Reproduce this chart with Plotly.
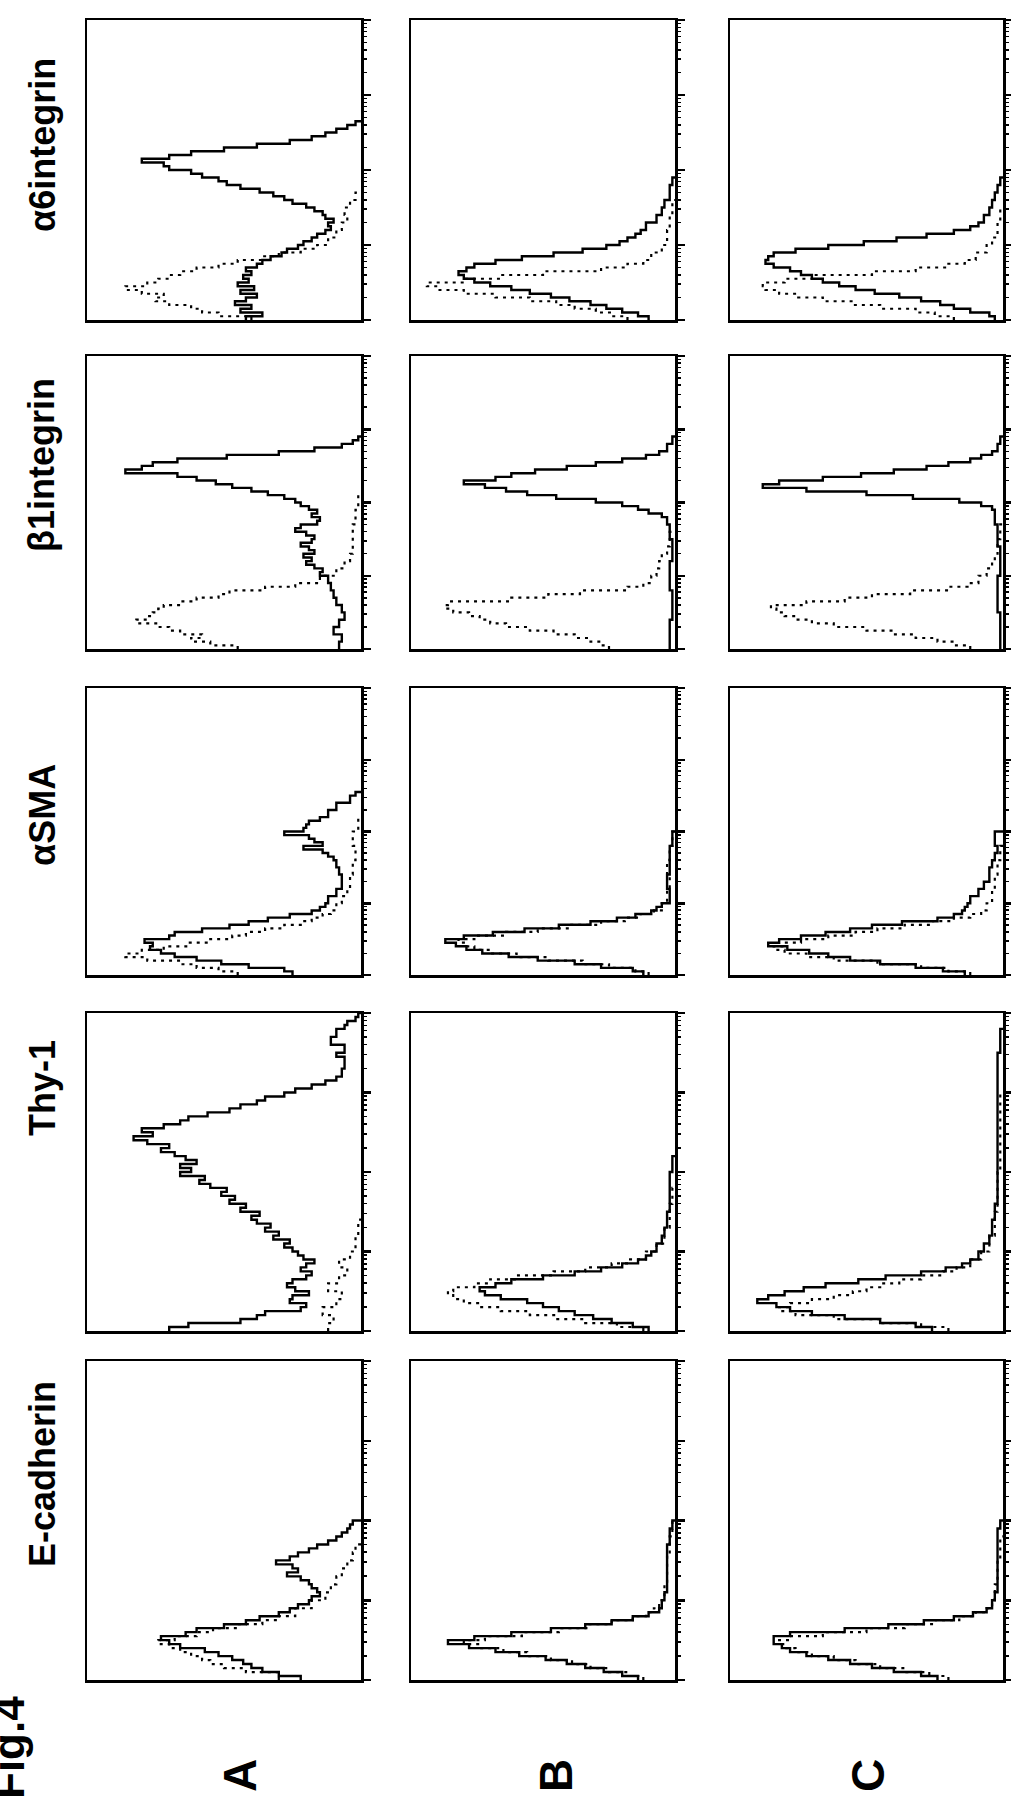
import plotly.graph_objects as go

# ---------------- data (log10 intensity position, % of panel count axis) ----------------
MARKERS = ["E-cadherin", "Thy-1", "αSMA", "β1integrin", "α6integrin"]
GROUPS = ["A", "B", "C"]

# ---- group A ----
A_A6_S_DEC = [0, 0.05, 0.1, 0.15, 0.2, 0.25, 0.3, 0.35, 0.4, 0.45, 0.5, 0.55, 0.6, 0.65, 0.7, 0.75, 0.8, 0.85, 0.9, 0.95, 1.0, 1.05, 1.1, 1.15, 1.2, 1.25, 1.3, 1.35, 1.4, 1.45, 1.5, 1.55, 1.6, 1.65, 1.7, 1.75, 1.8, 1.85, 1.9, 1.95, 2.0, 2.05, 2.1, 2.15, 2.2, 2.25, 2.3, 2.35, 2.4, 2.45, 2.5, 2.55, 2.6, 2.65]
A_A6_S_CNT = [42, 36, 44, 40, 46, 42, 38, 44, 39, 45, 41, 43, 40, 42, 38, 36, 33, 29, 27, 23, 21, 18, 16, 13, 11, 12, 10, 13, 14, 17, 20, 25, 28, 32, 37, 44, 49, 52, 58, 62, 70, 72, 80, 70, 62, 50, 38, 26, 18, 13, 9, 5, 2, 0]
A_A6_D_DEC = [0, 0.05, 0.1, 0.15, 0.2, 0.25, 0.3, 0.35, 0.4, 0.45, 0.5, 0.55, 0.6, 0.65, 0.7, 0.75, 0.8, 0.85, 0.9, 0.95, 1.0, 1.1, 1.2, 1.3, 1.4, 1.5, 1.6, 1.7]
A_A6_D_CNT = [40, 52, 58, 62, 70, 75, 72, 80, 86, 78, 74, 70, 66, 60, 52, 45, 36, 30, 22, 16, 12, 9, 7, 5, 6, 4, 2, 0]

A_B1_S_DEC = [0, 0.1, 0.2, 0.3, 0.4, 0.5, 0.6, 0.7, 0.8, 0.9, 1.0, 1.05, 1.1, 1.15, 1.2, 1.25, 1.3, 1.35, 1.4, 1.45, 1.5, 1.55, 1.6, 1.65, 1.7, 1.75, 1.8, 1.85, 1.9, 1.95, 2.0, 2.05, 2.1, 2.15, 2.2, 2.25, 2.3, 2.35, 2.4, 2.45, 2.5, 2.55, 2.6, 2.65, 2.7, 2.75, 2.8, 2.85, 2.9]
A_B1_S_CNT = [8, 7, 10, 8, 6, 7, 9, 10, 11, 12, 15, 14, 17, 20, 18, 21, 17, 19, 22, 18, 17, 20, 24, 22, 16, 15, 18, 16, 19, 22, 24, 28, 34, 40, 47, 53, 60, 67, 86, 80, 76, 67, 49, 30, 17, 7, 3, 1, 0]
A_B1_D_DEC = [0, 0.05, 0.1, 0.15, 0.2, 0.25, 0.3, 0.35, 0.4, 0.45, 0.5, 0.55, 0.6, 0.65, 0.7, 0.75, 0.8, 0.85, 0.9, 1.0, 1.1, 1.2, 1.3, 1.5, 1.7, 1.9, 2.1]
A_B1_D_CNT = [45, 55, 62, 58, 66, 70, 74, 82, 78, 76, 74, 72, 66, 60, 52, 48, 35, 24, 15, 9, 6, 4, 3, 3, 2, 1, 0]

A_SMA_S_DEC = [0, 0.05, 0.1, 0.15, 0.2, 0.25, 0.3, 0.35, 0.4, 0.45, 0.5, 0.55, 0.6, 0.65, 0.7, 0.75, 0.8, 0.85, 0.9, 0.95, 1.0, 1.1, 1.2, 1.3, 1.4, 1.5, 1.6, 1.65, 1.7, 1.75, 1.8, 1.85, 1.9, 1.95, 2.0, 2.05, 2.1, 2.15, 2.2, 2.3, 2.4, 2.5, 2.55]
A_SMA_S_CNT = [25, 28, 41, 51, 60, 68, 73, 77, 76, 79, 70, 68, 58, 48, 41, 34, 26, 18, 15, 13, 12, 9, 7, 7, 8, 9, 10, 12, 14, 21, 14, 17, 19, 28, 21, 20, 19, 15, 12, 9, 4, 2, 0]
A_SMA_D_DEC = [0, 0.05, 0.1, 0.15, 0.2, 0.25, 0.3, 0.35, 0.4, 0.45, 0.5, 0.55, 0.6, 0.65, 0.7, 0.75, 0.8, 0.85, 0.9, 1.0, 1.1, 1.2, 1.4, 1.6, 1.8, 2.0, 2.2]
A_SMA_D_CNT = [45, 52, 60, 66, 78, 86, 80, 72, 63, 55, 47, 42, 35, 28, 22, 18, 14, 11, 9, 7, 5, 4, 3, 2, 3, 1, 0]

A_THY_S_DEC = [0, 0.05, 0.1, 0.15, 0.2, 0.25, 0.3, 0.35, 0.4, 0.45, 0.5, 0.55, 0.6, 0.65, 0.7, 0.75, 0.8, 0.85, 0.9, 0.95, 1.0, 1.05, 1.1, 1.15, 1.2, 1.25, 1.3, 1.35, 1.4, 1.45, 1.5, 1.55, 1.6, 1.65, 1.7, 1.75, 1.8, 1.85, 1.9, 1.95, 2.0, 2.05, 2.1, 2.15, 2.2, 2.25, 2.3, 2.35, 2.4, 2.45, 2.5, 2.55, 2.6, 2.65, 2.7, 2.75, 2.8, 2.85, 2.9, 2.95, 3.0, 3.05, 3.1, 3.15, 3.2, 3.3, 3.4, 3.45, 3.5, 3.6, 3.7, 3.8, 3.85, 3.9, 3.95, 4.0]
A_THY_S_CNT = [70, 63, 44, 38, 35, 22, 20, 26, 25, 19, 24, 27, 25, 20, 18, 22, 20, 17, 21, 23, 25, 28, 26, 32, 30, 35, 33, 38, 40, 37, 44, 42, 48, 46, 51, 49, 55, 59, 57, 66, 62, 66, 60, 64, 68, 73, 70, 78, 83, 76, 80, 72, 66, 63, 56, 48, 44, 38, 35, 28, 24, 18, 13, 9, 7, 6, 6, 9, 6, 11, 9, 6, 5, 2, 1, 0]
A_THY_D_DEC = [0, 0.1, 0.2, 0.3, 0.4, 0.5, 0.6, 0.7, 0.8, 0.9, 1.0, 1.2, 1.4]
A_THY_D_CNT = [12, 10, 14, 9, 7, 12, 8, 5, 8, 4, 2, 1, 0]

A_ECAD_S_DEC = [0, 0.05, 0.1, 0.15, 0.2, 0.25, 0.3, 0.35, 0.4, 0.45, 0.5, 0.55, 0.6, 0.65, 0.7, 0.75, 0.8, 0.85, 0.9, 0.95, 1.0, 1.05, 1.1, 1.15, 1.2, 1.25, 1.3, 1.35, 1.4, 1.45, 1.5, 1.55, 1.6, 1.65, 1.7, 1.75, 1.8, 1.85, 1.9, 1.95, 2.0]
A_ECAD_S_CNT = [22, 30, 36, 40, 43, 47, 52, 57, 66, 70, 73, 64, 60, 50, 42, 37, 30, 26, 23, 19, 18, 15, 16, 18, 19, 22, 27, 23, 25, 31, 26, 23, 19, 16, 12, 9, 7, 5, 4, 3, 0]
A_ECAD_D_DEC = [0, 0.1, 0.15, 0.2, 0.25, 0.3, 0.35, 0.4, 0.45, 0.5, 0.55, 0.6, 0.65, 0.7, 0.75, 0.8, 0.9, 1.0, 1.1, 1.2, 1.3, 1.4, 1.5, 1.6, 1.7]
A_ECAD_D_CNT = [30, 42, 50, 55, 58, 62, 66, 70, 74, 68, 60, 54, 45, 36, 30, 24, 18, 13, 11, 9, 7, 5, 3, 2, 0]

# ---- group B ----
B_A6_S_DEC = [0, 0.05, 0.1, 0.15, 0.2, 0.25, 0.3, 0.35, 0.4, 0.45, 0.5, 0.55, 0.6, 0.65, 0.7, 0.75, 0.8, 0.85, 0.9, 0.95, 1.0, 1.05, 1.1, 1.15, 1.2, 1.3, 1.4, 1.5, 1.6, 1.7, 1.8, 1.9]
B_A6_S_CNT = [10, 14, 20, 26, 32, 40, 47, 55, 62, 70, 76, 80, 82, 79, 76, 68, 58, 46, 35, 26, 21, 18, 15, 13, 11, 7, 5, 4, 2, 2, 1, 0]
B_A6_D_DEC = [0, 0.05, 0.1, 0.15, 0.2, 0.25, 0.3, 0.35, 0.4, 0.45, 0.5, 0.55, 0.6, 0.65, 0.7, 0.75, 0.8, 0.9, 1.0, 1.2, 1.4, 1.6]
B_A6_D_CNT = [18, 24, 30, 38, 45, 55, 68, 80, 90, 94, 80, 66, 50, 28, 18, 12, 9, 5, 3, 2, 1, 0]

B_B1_S_DEC = [0, 0.4, 0.8, 1.2, 1.5, 1.7, 1.8, 1.85, 1.9, 1.95, 2.0, 2.05, 2.1, 2.15, 2.2, 2.25, 2.3, 2.35, 2.4, 2.45, 2.5, 2.55, 2.6, 2.65, 2.7, 2.8, 2.9]
B_B1_S_CNT = [2, 1, 2, 1, 2, 3, 5, 10, 14, 20, 30, 45, 56, 64, 72, 80, 68, 62, 53, 41, 30, 20, 11, 6, 3, 1, 0]
B_B1_D_DEC = [0, 0.05, 0.1, 0.15, 0.2, 0.25, 0.3, 0.35, 0.4, 0.45, 0.5, 0.55, 0.6, 0.65, 0.7, 0.75, 0.8, 0.85, 0.9, 1.0, 1.1, 1.2, 1.3, 1.4, 1.6]
B_B1_D_CNT = [25, 28, 32, 38, 46, 55, 64, 70, 74, 78, 84, 87, 86, 62, 48, 36, 18, 12, 9, 7, 6, 5, 3, 2, 0]

B_SMA_S_DEC = [0, 0.05, 0.1, 0.15, 0.2, 0.25, 0.3, 0.35, 0.4, 0.45, 0.5, 0.55, 0.6, 0.65, 0.7, 0.75, 0.8, 0.85, 0.9, 0.95, 1.0, 1.2, 1.4, 1.6, 1.8, 2.0]
B_SMA_S_CNT = [12, 16, 28, 38, 52, 63, 73, 79, 83, 87, 80, 69, 57, 44, 32, 22, 15, 9, 7, 5, 2, 3, 2, 2, 1, 0]
B_SMA_D_DEC = [0, 0.05, 0.1, 0.15, 0.2, 0.25, 0.3, 0.35, 0.4, 0.45, 0.5, 0.55, 0.6, 0.65, 0.7, 0.75, 0.8, 0.85, 0.9, 1.0, 1.2, 1.4, 1.6, 1.8, 2.0]
B_SMA_D_CNT = [10, 15, 25, 35, 48, 60, 70, 76, 80, 82, 76, 64, 52, 40, 28, 19, 13, 8, 5, 3, 2, 3, 2, 1, 0]

B_THY_S_DEC = [0, 0.05, 0.1, 0.15, 0.2, 0.25, 0.3, 0.35, 0.4, 0.45, 0.5, 0.55, 0.6, 0.65, 0.7, 0.75, 0.8, 0.85, 0.9, 0.95, 1.0, 1.1, 1.2, 1.3, 1.5, 1.8, 2.0, 2.2]
B_THY_S_CNT = [10, 16, 24, 31, 38, 44, 50, 56, 66, 72, 74, 68, 62, 50, 38, 28, 20, 14, 11, 9, 7, 5, 4, 3, 2, 2, 1, 0]
B_THY_D_DEC = [0, 0.05, 0.1, 0.15, 0.2, 0.25, 0.3, 0.35, 0.4, 0.45, 0.5, 0.55, 0.6, 0.65, 0.7, 0.75, 0.8, 0.85, 0.9, 1.0, 1.1, 1.3, 1.6, 1.8]
B_THY_D_CNT = [12, 22, 34, 45, 55, 66, 74, 80, 84, 86, 84, 76, 70, 60, 46, 34, 24, 17, 11, 7, 4, 2, 1, 0]

B_ECAD_S_DEC = [0, 0.05, 0.1, 0.15, 0.2, 0.25, 0.3, 0.35, 0.4, 0.45, 0.5, 0.55, 0.6, 0.65, 0.7, 0.75, 0.8, 0.85, 0.9, 1.0, 1.1, 1.3, 1.5, 1.7, 1.9, 2.0]
B_ECAD_S_CNT = [14, 20, 27, 34, 41, 49, 59, 68, 78, 86, 76, 62, 47, 34, 24, 16, 10, 6, 5, 4, 3, 3, 3, 2, 1, 0]
B_ECAD_D_DEC = [0, 0.05, 0.1, 0.15, 0.2, 0.25, 0.3, 0.35, 0.4, 0.45, 0.5, 0.55, 0.6, 0.65, 0.7, 0.75, 0.8, 0.85, 0.9, 1.0, 1.2, 1.4, 1.6, 1.8, 2.0]
B_ECAD_D_CNT = [12, 18, 25, 32, 39, 47, 56, 65, 74, 80, 72, 58, 44, 33, 24, 16, 11, 8, 6, 4, 3, 3, 2, 1, 0]

# ---- group C ----
C_A6_S_DEC = [0, 0.05, 0.1, 0.15, 0.2, 0.25, 0.3, 0.35, 0.4, 0.45, 0.5, 0.55, 0.6, 0.65, 0.7, 0.75, 0.8, 0.85, 0.9, 0.95, 1.0, 1.05, 1.1, 1.15, 1.2, 1.25, 1.3, 1.4, 1.5, 1.6, 1.7, 1.8, 1.9]
C_A6_S_CNT = [3, 5, 12, 18, 23, 30, 38, 47, 54, 60, 66, 70, 74, 78, 84, 87, 86, 84, 76, 64, 51, 39, 28, 18, 12, 9, 7, 5, 4, 3, 2, 1, 0]
C_A6_D_DEC = [0, 0.05, 0.1, 0.15, 0.2, 0.25, 0.3, 0.35, 0.4, 0.45, 0.5, 0.55, 0.6, 0.65, 0.7, 0.75, 0.8, 0.9, 1.0, 1.1, 1.3, 1.5]
C_A6_D_CNT = [18, 25, 32, 45, 55, 66, 75, 82, 87, 88, 80, 70, 48, 32, 20, 14, 10, 6, 4, 2, 1, 0]

C_B1_S_DEC = [0, 0.5, 1.0, 1.4, 1.7, 1.8, 1.9, 1.95, 2.0, 2.05, 2.1, 2.15, 2.2, 2.25, 2.3, 2.35, 2.4, 2.45, 2.5, 2.55, 2.6, 2.65, 2.7, 2.8, 2.9]
C_B1_S_CNT = [1, 2, 1, 2, 3, 3, 4, 8, 16, 33, 50, 72, 88, 82, 66, 52, 40, 28, 20, 12, 8, 4, 2, 1, 0]
C_B1_D_DEC = [0, 0.05, 0.1, 0.15, 0.2, 0.25, 0.3, 0.35, 0.4, 0.45, 0.5, 0.55, 0.6, 0.65, 0.7, 0.75, 0.8, 0.85, 0.9, 1.0, 1.1, 1.2, 1.3, 1.5, 1.7]
C_B1_D_CNT = [12, 18, 24, 32, 40, 50, 62, 70, 76, 80, 83, 85, 72, 58, 48, 34, 20, 13, 9, 6, 4, 3, 2, 1, 0]

C_SMA_S_DEC = [0, 0.05, 0.1, 0.15, 0.2, 0.25, 0.3, 0.35, 0.4, 0.45, 0.5, 0.55, 0.6, 0.65, 0.7, 0.75, 0.8, 0.85, 0.9, 0.95, 1.0, 1.1, 1.2, 1.3, 1.4, 1.5, 1.6, 1.7, 1.8, 1.9, 2.0]
C_SMA_S_CNT = [14, 22, 32, 45, 56, 64, 71, 79, 86, 82, 74, 65, 56, 48, 37, 24, 18, 15, 14, 13, 12, 9, 7, 5, 5, 4, 3, 2, 3, 3, 0]
C_SMA_D_DEC = [0, 0.05, 0.1, 0.15, 0.2, 0.25, 0.3, 0.35, 0.4, 0.45, 0.5, 0.55, 0.6, 0.65, 0.7, 0.75, 0.8, 0.85, 0.9, 1.0, 1.2, 1.4, 1.6, 1.8]
C_SMA_D_CNT = [12, 20, 30, 46, 62, 72, 80, 84, 80, 74, 64, 54, 46, 36, 26, 18, 12, 8, 6, 4, 3, 2, 1, 0]

C_THY_S_DEC = [0, 0.05, 0.1, 0.15, 0.2, 0.25, 0.3, 0.35, 0.4, 0.45, 0.5, 0.55, 0.6, 0.65, 0.7, 0.75, 0.8, 0.85, 0.9, 1.0, 1.1, 1.2, 1.4, 1.6, 2.0, 2.5, 3.0, 3.5, 3.8]
C_THY_S_CNT = [26, 32, 45, 58, 70, 78, 83, 90, 86, 80, 73, 65, 53, 43, 30, 21, 15, 12, 9, 7, 5, 4, 3, 2, 2, 2, 2, 1, 0]
C_THY_D_DEC = [0, 0.05, 0.1, 0.15, 0.2, 0.25, 0.3, 0.35, 0.4, 0.45, 0.5, 0.55, 0.6, 0.65, 0.7, 0.75, 0.8, 0.9, 1.0, 1.2, 1.5, 2.0, 2.5, 3.0]
C_THY_D_CNT = [20, 30, 45, 62, 76, 82, 78, 70, 62, 55, 50, 45, 38, 30, 22, 17, 12, 8, 5, 3, 2, 1, 1, 0]

C_ECAD_S_DEC = [0, 0.05, 0.1, 0.15, 0.2, 0.25, 0.3, 0.35, 0.4, 0.45, 0.5, 0.55, 0.6, 0.65, 0.7, 0.75, 0.8, 0.85, 0.9, 1.0, 1.1, 1.3, 1.5, 1.7, 1.9, 2.0]
C_ECAD_S_CNT = [24, 30, 40, 48, 56, 64, 72, 78, 81, 84, 84, 78, 58, 42, 29, 18, 11, 6, 4, 3, 2, 2, 2, 2, 1, 0]
C_ECAD_D_DEC = [0, 0.05, 0.1, 0.15, 0.2, 0.25, 0.3, 0.35, 0.4, 0.45, 0.5, 0.55, 0.6, 0.65, 0.7, 0.75, 0.8, 0.85, 0.9, 1.0, 1.2, 1.5, 1.8]
C_ECAD_D_CNT = [20, 27, 36, 45, 54, 62, 70, 76, 80, 82, 78, 66, 50, 36, 25, 16, 10, 6, 4, 3, 2, 1, 0]

# panel table: rows top->bottom (α6, β1, αSMA, Thy-1, E-cad), columns A, B, C
PANELS = [
    [(A_A6_S_DEC, A_A6_S_CNT, A_A6_D_DEC, A_A6_D_CNT), (B_A6_S_DEC, B_A6_S_CNT, B_A6_D_DEC, B_A6_D_CNT), (C_A6_S_DEC, C_A6_S_CNT, C_A6_D_DEC, C_A6_D_CNT)],
    [(A_B1_S_DEC, A_B1_S_CNT, A_B1_D_DEC, A_B1_D_CNT), (B_B1_S_DEC, B_B1_S_CNT, B_B1_D_DEC, B_B1_D_CNT), (C_B1_S_DEC, C_B1_S_CNT, C_B1_D_DEC, C_B1_D_CNT)],
    [(A_SMA_S_DEC, A_SMA_S_CNT, A_SMA_D_DEC, A_SMA_D_CNT), (B_SMA_S_DEC, B_SMA_S_CNT, B_SMA_D_DEC, B_SMA_D_CNT), (C_SMA_S_DEC, C_SMA_S_CNT, C_SMA_D_DEC, C_SMA_D_CNT)],
    [(A_THY_S_DEC, A_THY_S_CNT, A_THY_D_DEC, A_THY_D_CNT), (B_THY_S_DEC, B_THY_S_CNT, B_THY_D_DEC, B_THY_D_CNT), (C_THY_S_DEC, C_THY_S_CNT, C_THY_D_DEC, C_THY_D_CNT)],
    [(A_ECAD_S_DEC, A_ECAD_S_CNT, A_ECAD_D_DEC, A_ECAD_D_CNT), (B_ECAD_S_DEC, B_ECAD_S_CNT, B_ECAD_D_DEC, B_ECAD_D_CNT), (C_ECAD_S_DEC, C_ECAD_S_CNT, C_ECAD_D_DEC, C_ECAD_D_CNT)],
]
ROW_TITLES = ["α6integrin", "β1integrin", "αSMA", "Thy-1", "E-cadherin"]

# ---------------- layout (pixels) ----------------
W, H = 1011, 1802
COL_X = [(87, 361), (411, 675), (730, 1003)]
ROW_Y = [(20, 320), (356, 649), (688, 975), (1013, 1331), (1361, 1680)]
TITLE_Y = [145, 465, 815, 1088, 1474]
TITLE_X = 42
LETTER_X = [240, 556, 868]
LETTER_Y = 1776

MAJOR = [1, 10, 100, 1000, 10000]
MINOR = [m * d for d in [1, 10, 100, 1000] for m in range(2, 10)]

fig = go.Figure()
layout = dict(
    width=W, height=H,
    margin=dict(l=0, r=0, t=0, b=0),
    paper_bgcolor="white", plot_bgcolor="white",
    showlegend=False,
)

k = 0
for r in range(5):
    for c in range(3):
        k += 1
        xs = "x" if k == 1 else f"x{k}"
        ys = "y" if k == 1 else f"y{k}"
        sd, sc, dd, dc = PANELS[r][c]
        fig.add_trace(go.Scatter(
            x=dc, y=[10 ** v for v in dd], xaxis=xs, yaxis=ys, mode="lines",
            line=dict(color="black", width=2.2, dash="3px,5px", shape="vh"),
            hoverinfo="skip"))
        fig.add_trace(go.Scatter(
            x=sc, y=[10 ** v for v in sd], xaxis=xs, yaxis=ys, mode="lines",
            line=dict(color="black", width=2.4, shape="vh"),
            hoverinfo="skip"))
        x0, x1 = COL_X[c]
        y0, y1 = ROW_Y[r]
        xname = "xaxis" if k == 1 else f"xaxis{k}"
        yname = "yaxis" if k == 1 else f"yaxis{k}"
        layout[xname] = dict(
            domain=[x0 / W, x1 / W], anchor=ys, range=[100, 0],
            showline=True, mirror=True, linecolor="black", linewidth=2.5,
            ticks="", showticklabels=False, showgrid=False, zeroline=False,
        )
        layout[yname] = dict(
            domain=[1 - y1 / H, 1 - y0 / H], anchor=xs, type="log", range=[0, 4],
            side="right", showline=True, mirror=True, linecolor="black", linewidth=2.5,
            tickmode="array", tickvals=MAJOR, ticks="outside", ticklen=7,
            tickwidth=2.5, tickcolor="black", showticklabels=False,
            showgrid=False, zeroline=False,
            minor=dict(tickmode="array", tickvals=MINOR, ticks="outside",
                       ticklen=3, tickwidth=1.5, tickcolor="black", showgrid=False),
        )

ann = []
for r, t in enumerate(ROW_TITLES):
    ann.append(dict(text=f"<b>{t}</b>", x=TITLE_X / W, y=1 - TITLE_Y[r] / H,
                    xref="paper", yref="paper", showarrow=False, textangle=-90,
                    xanchor="center", yanchor="middle",
                    font=dict(family="Liberation Sans, Arial", size=36, color="black")))
for c, g in enumerate(GROUPS):
    ann.append(dict(text=f"<b>{g}</b>", x=LETTER_X[c] / W, y=1 - LETTER_Y / H,
                    xref="paper", yref="paper", showarrow=False, textangle=-90,
                    xanchor="center", yanchor="middle",
                    font=dict(family="Liberation Sans, Arial", size=46, color="black")))
ann.append(dict(text="<b>Fig.4</b>", x=8 / W, y=1 - 1748 / H,
                xref="paper", yref="paper", showarrow=False, textangle=-90,
                xanchor="center", yanchor="middle",
                font=dict(family="Liberation Sans, Arial", size=44, color="black")))
layout["annotations"] = ann

fig.update_layout(**layout)
fig.write_html(
    "out.html",
    config={"displayModeBar": False, "staticPlot": True},
    post_script="document.body.style.margin='0px';document.body.style.overflow='hidden';",
)
